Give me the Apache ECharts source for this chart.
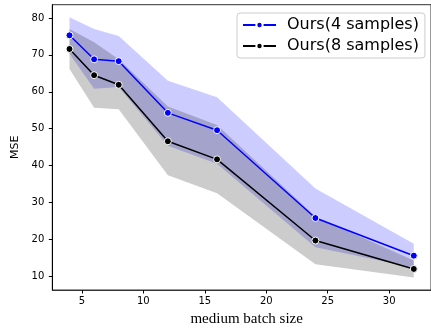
<!DOCTYPE html>
<html>
<head>
<meta charset="utf-8">
<script src="https://cdn.jsdelivr.net/npm/echarts@6/dist/echarts.min.js"></script>
<style>
html,body{margin:0;padding:0;background:#fff;}
#chart{width:431px;height:332px;}
</style>
</head>
<body>
<div id="chart"></div>
<script>
const batchSizes = [4, 6, 8, 12, 16, 24, 32];
const mean4 = [75.3, 68.8, 68.3, 54.3, 49.6, 25.8, 15.6];
const upper4 = [80.2, 77.0, 75.1, 63.0, 58.5, 33.8, 18.8];
const lower4 = [70.3, 60.8, 61.3, 45.4, 40.5, 17.9, 12.4];
const mean8 = [71.6, 64.5, 61.9, 46.6, 41.7, 19.7, 12.0];
const upper8 = [77.0, 73.4, 68.8, 56.0, 51.0, 26.2, 14.3];
const lower8 = [66.2, 55.7, 55.3, 37.4, 32.5, 13.3, 9.7];
const xTicks = [5, 10, 15, 20, 25, 30];
const yTicks = [10, 20, 30, 40, 50, 60, 70, 80];
const name4 = 'Ours(4 samples)';
const name8 = 'Ours(8 samples)';

const pairs = (xs, ys) => xs.map((x, i) => [x, ys[i]]);

const chart = echarts.init(document.getElementById('chart'), null, {renderer: 'canvas'});

function bandSeries(lower, upper, color) {
  const data = batchSizes.map((x, i) => [x, lower[i], upper[i]]);
  return {
    type: 'custom', silent: true, z: 1,
    data: data,
    encode: {x: 0, y: [1, 2]},
    renderItem: function (params, api) {
      if (params.dataIndex !== 0) return null;
      const top = data.map(d => api.coord([d[0], d[2]]));
      const bot = data.slice().reverse().map(d => api.coord([d[0], d[1]]));
      return {
        type: 'polygon',
        shape: {points: top.concat(bot)},
        style: {fill: color, stroke: null}
      };
    }
  };
}

function meanSeries(name, data, color) {
  return {
    name: name, type: 'line', data: pairs(batchSizes, data),
    symbol: 'circle', symbolSize: 7, z: 3,
    lineStyle: {color: color, width: 1.5},
    itemStyle: {color: color, borderColor: '#ffffff', borderWidth: 1}
  };
}

const option = {
  animation: false,
  backgroundColor: '#ffffff',
  grid: {
    left: 52.3, right: -3.5, top: 4.7, bottom: 42,
    show: true, borderColor: '#333', borderWidth: 1, backgroundColor: 'transparent'
  },
  xAxis: {
    type: 'value', min: 2.6, max: 33.4,
    name: 'medium batch size', nameLocation: 'middle', nameGap: 22,
    nameTextStyle: {fontFamily: 'Liberation Serif', fontSize: 15, color: '#000', padding: [0, 0, 0, 10]},
    axisLine: {show: true, lineStyle: {color: '#333', width: 1}},
    axisTick: {show: true, length: 3.5, inside: false, customValues: xTicks, lineStyle: {color: '#000', width: 1}},
    axisLabel: {customValues: xTicks, margin: 6, fontFamily: 'DejaVu Sans', fontSize: 10, color: '#000'},
    splitLine: {show: false}
  },
  yAxis: {
    type: 'value', min: 6.3, max: 83.6,
    name: 'MSE', nameLocation: 'middle', nameGap: 22, nameRotate: 90,
    nameTextStyle: {fontFamily: 'DejaVu Sans', fontSize: 11, color: '#000'},
    axisLine: {show: true, lineStyle: {color: '#000', width: 1}},
    axisTick: {show: true, length: 3.5, inside: false, customValues: yTicks, lineStyle: {color: '#000', width: 1}},
    axisLabel: {customValues: yTicks, margin: 8, fontFamily: 'DejaVu Sans', fontSize: 10, color: '#000'},
    splitLine: {show: false}
  },
  legend: {
    data: [name4, name8],
    orient: 'vertical', left: 237, top: 13,
    padding: [4, 6, 4, 5],
    itemWidth: 33, itemHeight: 8, itemGap: 5,
    textStyle: {fontFamily: 'DejaVu Sans', fontSize: 16, color: '#000', padding: [0, 0, 0, 6]},
    borderColor: '#cccccc', borderWidth: 1, borderRadius: 3,
    backgroundColor: 'rgba(255,255,255,0.8)'
  },
  series: [
    bandSeries(lower4, upper4, 'rgba(0,0,255,0.2)'),
    bandSeries(lower8, upper8, 'rgba(0,0,0,0.2)'),
    meanSeries(name4, mean4, '#0000ff'),
    meanSeries(name8, mean8, '#000000')
  ]
};
chart.setOption(option);
</script>
</body>
</html>
